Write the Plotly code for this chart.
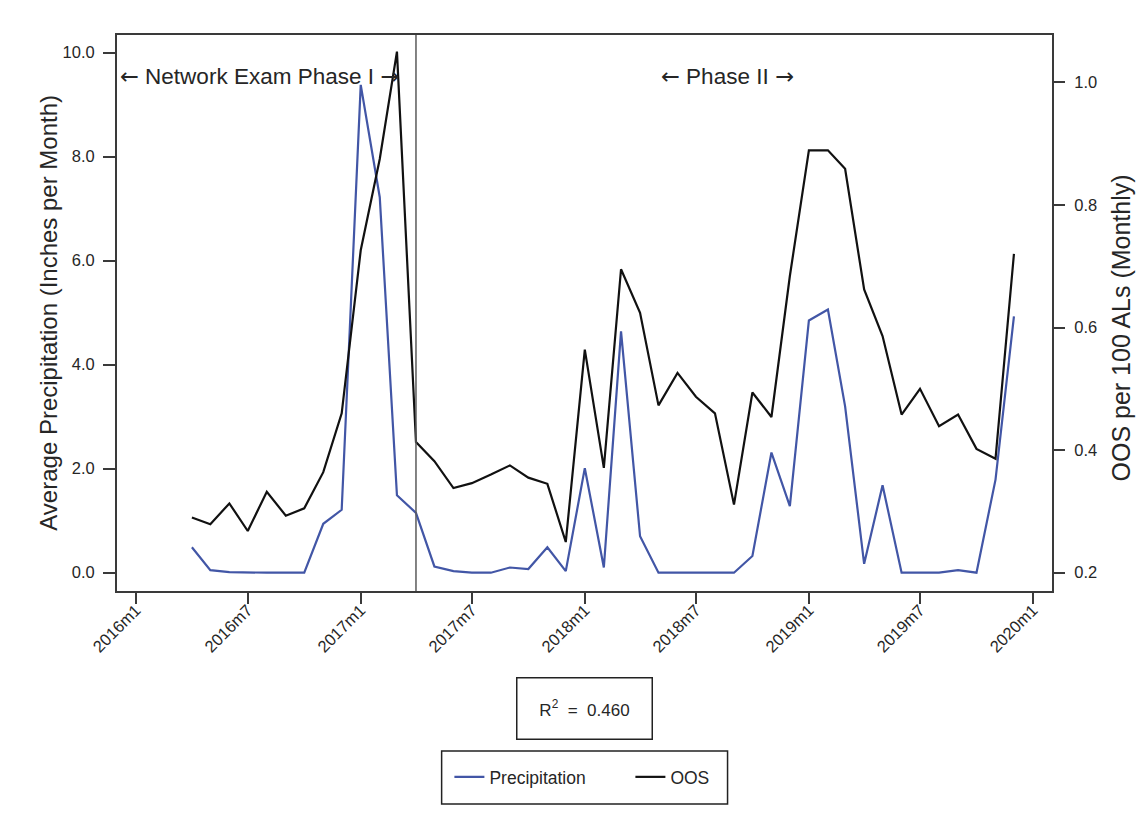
import pandas as pd
import plotly.graph_objects as go

# Monthly series, 2016m4 .. 2019m12
months = pd.date_range("2016-04-01", "2019-12-01", freq="MS")

precip = [0.49, 0.05, 0.01, 0.00, 0.00, 0.00, 0.00, 0.94, 1.21,
          9.38, 7.22, 1.49, 1.15, 0.12, 0.03, 0.00, 0.00, 0.10, 0.07, 0.49, 0.03,
          2.01, 0.10, 4.64, 0.70, 0.00, 0.00, 0.00, 0.00, 0.00, 0.32, 2.31, 1.28,
          4.85, 5.06, 3.20, 0.17, 1.68, 0.00, 0.00, 0.00, 0.05, 0.00, 1.79, 4.93]

oos = [0.290, 0.279, 0.313, 0.268, 0.332, 0.293, 0.305, 0.364, 0.460,
       0.726, 0.875, 1.050, 0.413, 0.382, 0.338, 0.346, 0.360, 0.375, 0.355, 0.345, 0.250,
       0.564, 0.371, 0.695, 0.624, 0.473, 0.526, 0.487, 0.460, 0.311, 0.494, 0.454, 0.684,
       0.889, 0.889, 0.859, 0.662, 0.586, 0.458, 0.500, 0.439, 0.458, 0.402, 0.386, 0.720]

tick_dates = pd.date_range("2016-01-01", "2020-01-01", freq="6MS")
tick_labels = ["2016m1", "2016m7", "2017m1", "2017m7", "2018m1",
               "2018m7", "2019m1", "2019m7", "2020m1"]

left_ticks = [0, 2, 4, 6, 8, 10]
left_tick_labels = ["0.0", "2.0", "4.0", "6.0", "8.0", "10.0"]
right_ticks = [0.2, 0.4, 0.6, 0.8, 1.0]
right_tick_labels = ["0.2", "0.4", "0.6", "0.8", "1.0"]

phase_break = "2017-04-01"
r_squared = 0.460

FONT = "Arial, Liberation Sans, DejaVu Sans, sans-serif"
TXT = "#262626"
AX = "#3a3a3a"
BLUE = "#4256a6"

# long arrows drawn with DejaVu Sans glyphs
LARR = '<span style="font-family:DejaVu Sans">←</span>'
RARR = '<span style="font-family:DejaVu Sans">→</span>'

fig = go.Figure()
fig.add_trace(go.Scatter(x=months, y=precip, name="Precipitation", mode="lines",
                         line=dict(color=BLUE, width=2.2), yaxis="y"))
fig.add_trace(go.Scatter(x=months, y=oos, name="OOS", mode="lines",
                         line=dict(color="#111111", width=2.2), yaxis="y2"))

# phase divider
fig.add_shape(type="line", xref="x", yref="paper", x0=phase_break, x1=phase_break,
              y0=0, y1=1, line=dict(color="#5a5a5a", width=1.5))

# legend frame
fig.add_shape(type="rect", xref="paper", yref="paper",
              x0=0.3472, x1=0.6530, y0=-0.3831, y1=-0.2878,
              line=dict(color="#222222", width=1.5), fillcolor="white", layer="below")

annotations = [
    dict(text=f"{LARR} Network Exam Phase I {RARR}", x=0.1526, y=0.9263,
         xref="paper", yref="paper", xanchor="center", yanchor="middle",
         showarrow=False, font=dict(size=22.5, color=TXT)),
    dict(text=f"{LARR} Phase II {RARR}", x=0.6525, y=0.9263, xref="paper", yref="paper",
         xanchor="center", yanchor="middle", showarrow=False,
         font=dict(size=22.5, color=TXT)),
    dict(text="Average Precipitation (Inches per Month)", x=-0.0741, y=0.5,
         xref="paper", yref="paper", xanchor="center", yanchor="middle",
         textangle=-90, showarrow=False, font=dict(size=24, color=TXT)),
    dict(text="OOS per 100 ALs (Monthly)", x=1.0743, y=0.473,
         xref="paper", yref="paper", xanchor="center", yanchor="middle",
         textangle=-90, showarrow=False, font=dict(size=25, color=TXT)),
    dict(text=f"R<sup>2</sup>  =  {r_squared:.3f}", x=0.4995, y=-0.2122,
         xref="paper", yref="paper", xanchor="center", yanchor="middle",
         showarrow=False, width=130, height=56,
         bordercolor="#222222", borderwidth=1.5, borderpad=2, bgcolor="white",
         font=dict(size=17, color=TXT)),
]

fig.update_layout(
    width=1144, height=840,
    margin=dict(l=117.3, r=91.5, t=35, b=249),
    paper_bgcolor="white", plot_bgcolor="white",
    font=dict(family=FONT, color=TXT, size=16),
    showlegend=True,
    legend=dict(orientation="h", x=0.3555, y=-0.3345, xanchor="left", yanchor="middle",
                bgcolor="rgba(0,0,0,0)", borderwidth=0, font=dict(size=17.5, color=TXT),
                entrywidth=136, entrywidthmode="pixels"),
    annotations=annotations,
    xaxis=dict(type="date", range=["2015-12-01", "2020-02-01"],
               tickmode="array", tickvals=tick_dates, ticktext=tick_labels,
               tickangle=-45, ticks="outside", ticklen=11, tickwidth=1.5, tickcolor=AX,
               showline=True, linecolor=AX, linewidth=2, mirror=True,
               showgrid=False, zeroline=False, ticklabelstandoff=-10,
               tickfont=dict(size=16.5, color=TXT)),
    yaxis=dict(range=[-0.352, 10.34], tickmode="array", tickvals=left_ticks,
               ticktext=left_tick_labels, ticks="outside", ticklen=12, tickwidth=1.5,
               tickcolor=AX, showline=True, linecolor=AX, linewidth=2,
               showgrid=False, zeroline=False, ticklabelstandoff=5,
               tickfont=dict(size=16.5, color=TXT)),
    yaxis2=dict(range=[0.1701, 1.0772], overlaying="y", side="right",
                tickmode="array", tickvals=right_ticks, ticktext=right_tick_labels,
                ticks="outside", ticklen=11, tickwidth=1.5, tickcolor=AX,
                showline=True, linecolor=AX, linewidth=2, showgrid=False,
                zeroline=False, ticklabelstandoff=6,
                tickfont=dict(size=16.5, color=TXT)),
)

fig.write_html("out.html")
